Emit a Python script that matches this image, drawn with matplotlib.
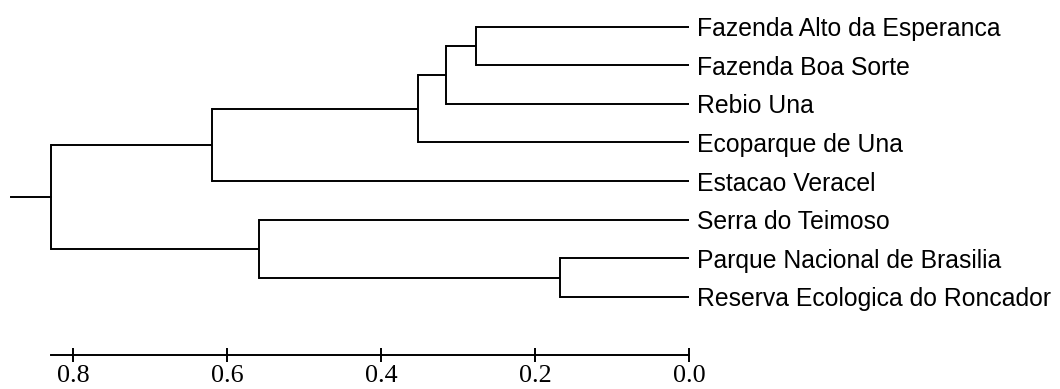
import matplotlib
matplotlib.use("Agg")
import matplotlib.pyplot as plt
from matplotlib.transforms import offset_copy

# leaves, top to bottom
labels = ["Fazenda Alto da Esperanca", "Fazenda Boa Sorte", "Rebio Una",
          "Ecoparque de Una", "Estacao Veracel", "Serra do Teimoso",
          "Parque Nacional de Brasilia", "Reserva Ecologica do Roncador"]

# merges: leaves are 0..7, merged clusters get 8, 9, ...
merges = [(0, 1), (8, 2), (9, 3), (10, 4), (6, 7), (5, 12), (11, 13)]
heights = [0.276, 0.316, 0.352, 0.619, 0.167, 0.559, 0.829]

ticks = [0.8, 0.6, 0.4, 0.2, 0.0]

fig = plt.figure(figsize=(10.6, 3.89), dpi=100)
ax = fig.add_axes([0, 0, 1, 1])
ax.set_xlim(0.8948, -0.4818)
ax.set_ylim(9.386, -0.6917)

lw = 1.4
col = "black"
pos = {i: (float(i), 0.0) for i in range(len(labels))}  # node -> (y, height)
for k, ((a, b), h) in enumerate(zip(merges, heights)):
    ya, ha = pos[a]
    yb, hb = pos[b]
    ax.plot([ha, h], [ya, ya], color=col, lw=lw, solid_capstyle="butt")
    ax.plot([hb, h], [yb, yb], color=col, lw=lw, solid_capstyle="butt")
    ax.plot([h, h], [ya, yb], color=col, lw=lw, solid_capstyle="projecting")
    pos[len(labels) + k] = ((ya + yb) / 2, h)

# root stub
ry, rh = pos[len(labels) + len(merges) - 1]
ax.plot([rh, rh + 0.052], [ry, ry], color=col, lw=lw)

# leaf labels
trans = offset_copy(ax.transData, fig=fig, x=8, y=0, units="dots")
for i, name in enumerate(labels):
    ax.text(0, i, name, transform=trans, ha="left", va="center_baseline",
            fontsize=17.8, family="Liberation Sans")

# distance axis
for s in ["top", "right", "left"]:
    ax.spines[s].set_visible(False)
ax.spines["bottom"].set_position(("data", 8.5))
ax.spines["bottom"].set_bounds(rh, 0)
ax.spines["bottom"].set_linewidth(lw)
ax.set_yticks([])
ax.set_xticks(ticks)
ax.set_xticklabels(["%.1f" % t for t in ticks], family="Liberation Serif", fontsize=18.8)
ax.tick_params(axis="x", direction="inout", length=9.5, width=lw, pad=2.5)
ax.patch.set_visible(False)

fig.savefig("out.png", dpi=100)
